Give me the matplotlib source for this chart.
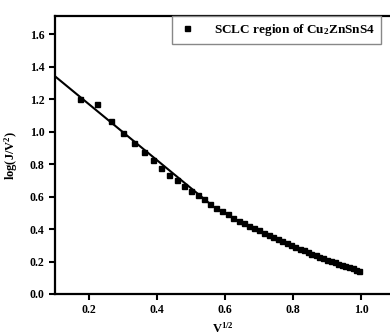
import matplotlib
matplotlib.use('Agg')
from matplotlib import pyplot as plt

# 字体设置：Times 风格粗体
plt.rcParams['font.family'] = ['Liberation Serif', 'DejaVu Serif']
plt.rcParams['font.weight'] = 'bold'
plt.rcParams['mathtext.fontset'] = 'custom'
plt.rcParams['mathtext.rm'] = 'Liberation Serif:bold'
plt.rcParams['mathtext.it'] = 'Liberation Serif:bold'
plt.rcParams['mathtext.bf'] = 'Liberation Serif:bold'

# 数据 (V^1/2, log(J/V^2))
x = [0.173, 0.224, 0.265, 0.300, 0.332, 0.361, 0.387, 0.412, 0.436, 0.458,
     0.480, 0.500, 0.520, 0.539, 0.557, 0.574, 0.592, 0.608, 0.624, 0.640,
     0.656, 0.671, 0.686, 0.700, 0.714, 0.728, 0.742, 0.755, 0.768, 0.781,
     0.794, 0.806, 0.819, 0.831, 0.843, 0.854, 0.866, 0.877, 0.889, 0.900,
     0.911, 0.922, 0.933, 0.943, 0.954, 0.964, 0.975, 0.985, 0.995]
y = [1.198, 1.169, 1.063, 0.993, 0.931, 0.874, 0.823, 0.775, 0.734, 0.702,
     0.665, 0.634, 0.609, 0.583, 0.554, 0.528, 0.508, 0.490, 0.470, 0.452,
     0.436, 0.420, 0.405, 0.392, 0.378, 0.363, 0.349, 0.336, 0.324, 0.312,
     0.300, 0.290, 0.279, 0.269, 0.256, 0.247, 0.237, 0.228, 0.219, 0.210,
     0.202, 0.194, 0.186, 0.179, 0.171, 0.164, 0.157, 0.150, 0.143]

# 线性拟合线
fit_x = [0.1, 0.55]
fit_y = [1.34, 0.565]

fig = plt.figure(figsize=(3.9, 3.34), dpi=100)
ax = fig.add_axes([55/390, 40/334, 335/390, 278/334])

ax.plot(x, y, 's', color='black', markersize=3.6, label='SCLC region of Cu$_2$ZnSnS4')
ax.plot(fit_x, fit_y, '-', color='black', linewidth=1.5)

ax.set_xlim(0.1, 1.085)
ax.set_ylim(0, 1.711)
ax.set_xticks([0.2, 0.4, 0.6, 0.8, 1.0])
ax.set_yticks([0.0, 0.2, 0.4, 0.6, 0.8, 1.0, 1.2, 1.4, 1.6])
ax.set_xticklabels(['0.2', '0.4', '0.6', '0.8', '1.0'])
ax.set_yticklabels(['0.0', '0.2', '0.4', '0.6', '0.8', '1.0', '1.2', '1.4', '1.6'])
ax.tick_params(direction='out', length=4.5, width=1.5, labelsize=8.5, pad=3)

for s in ['left', 'bottom', 'top']:
    ax.spines[s].set_linewidth(1.6)
ax.spines['right'].set_visible(False)

ax.set_xlabel('V$^{1/2}$', fontsize=9, fontweight='bold', labelpad=3)
ax.set_ylabel('log(J/V$^2$)', fontsize=9, fontweight='bold', labelpad=7)

leg = ax.legend(loc='upper left', bbox_to_anchor=(117/335, 1.0), frameon=True,
                fancybox=False, borderaxespad=0, prop={'size': 9.5, 'weight': 'bold'},
                handletextpad=1.3, borderpad=0.45, handlelength=1.4, framealpha=1)
leg.get_frame().set_edgecolor('#888888')
leg.get_frame().set_linewidth(1.0)

plt.savefig('out.png', dpi=100)
